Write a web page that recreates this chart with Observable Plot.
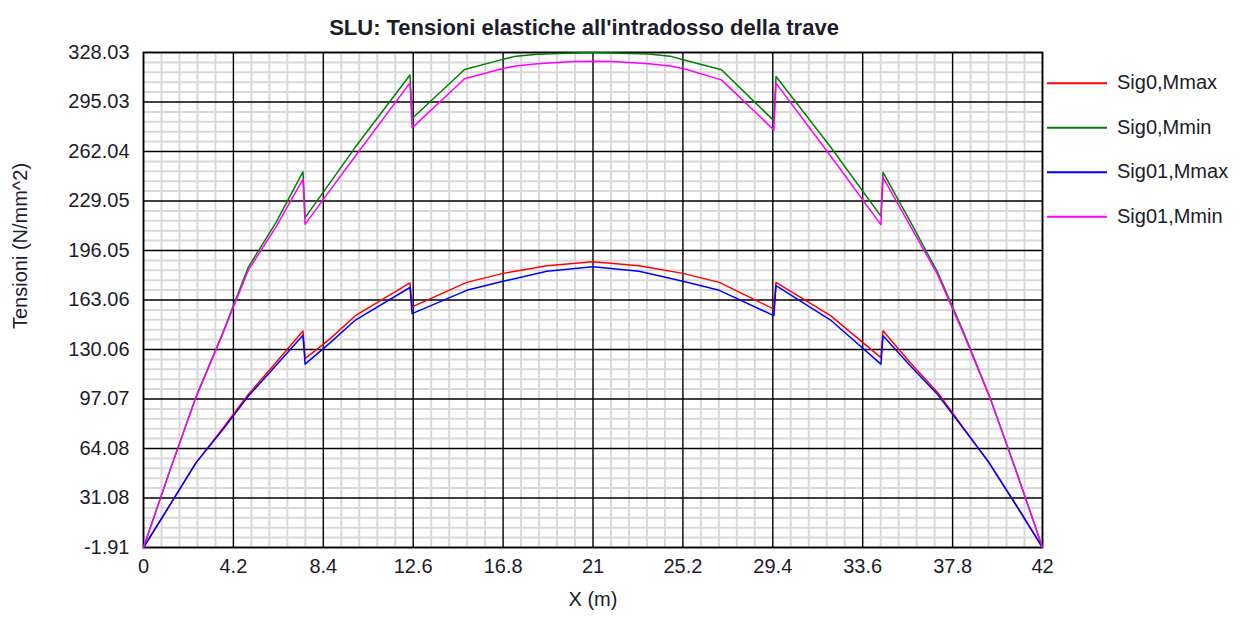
<!DOCTYPE html>
<html><head><meta charset="utf-8">
<script src="https://cdn.jsdelivr.net/npm/d3@7"></script>
<script src="https://cdn.jsdelivr.net/npm/@observablehq/plot@0.6"></script>
<style>
html,body{margin:0;padding:0;background:#fff;}
#chart{position:relative;width:1242px;height:617px;}
</style></head><body><div id="chart"></div>
<script>
const titleText = "SLU: Tensioni elastiche all'intradosso della trave";
const xLabel = "X (m)";
const yLabel = "Tensioni (N/mm^2)";

const xTicks = [0, 4.2, 8.4, 12.6, 16.8, 21, 25.2, 29.4, 33.6, 37.8, 42];
const xTickLabels = ["0", "4.2", "8.4", "12.6", "16.8", "21", "25.2", "29.4", "33.6", "37.8", "42"];
const yTicks = [-1.91, 31.08, 64.08, 97.07, 130.06, 163.06, 196.05, 229.05, 262.04, 295.03, 328.03];
const yTickLabels = ["-1.91", "31.08", "64.08", "97.07", "130.06", "163.06", "196.05", "229.05", "262.04", "295.03", "328.03"];

const seriesNames = ["Sig0,Mmax", "Sig0,Mmin", "Sig01,Mmax", "Sig01,Mmin"];
const seriesColors = ["#ff0000", "#008000", "#0000ff", "#ff00ff"];

// Mmax series (lower pair)
const xMmax = [0, 1.2, 2.45, 3.7, 4.9, 6.2, 7.45, 7.55, 8.7, 9.9, 12.45, 12.55, 15.1, 16.8, 18.85, 21, 23.15, 25.2, 26.9, 29.45, 29.55, 32.1, 34.45, 34.55, 35.8, 37.1, 38.3, 39.5, 40.8, 42];
const sig0Mmax = [-1.91, 25.6, 54.5, 77.5, 100.2, 121.5, 142.4, 124, 137, 152.6, 174.5, 158.5, 174.8, 180.8, 185.9, 188.6, 185.9, 180.8, 174.8, 157, 174.8, 152.6, 124.7, 142.5, 121.5, 101.4, 78, 54.7, 25.6, -1.91];
const sig01Mmax = [-1.91, 25.6, 54.5, 76.5, 99, 119.5, 139.5, 120.3, 134.3, 149.7, 171.4, 154, 169.5, 175.5, 182.2, 185.3, 182.2, 175.5, 169.5, 152.6, 172.6, 149.7, 120.3, 139.2, 119.5, 100, 77.5, 54.7, 25.6, -1.91];

// Mmin series (upper pair)
const xMmin = [0, 1.2, 2.45, 3.7, 4.9, 6.2, 7.45, 7.55, 8.7, 9.9, 12.45, 12.55, 15.0, 16.7, 17.4, 18.4, 20.1, 21, 21.9, 23.6, 24.6, 25.3, 27.0, 29.45, 29.55, 32.1, 34.45, 34.55, 35.8, 37.1, 38.3, 39.55, 40.8, 42];
const sig0Mmin = [-1.91, 48, 98.5, 141, 185, 215, 248.5, 218, 241, 265, 313, 284, 316.7, 323.1, 325.6, 326.8, 327.7, 328.03, 327.7, 327, 325.6, 322.9, 316.5, 282.6, 312, 265, 219, 248.2, 216, 181.5, 142, 98, 48, -1.91];
const sig01Mmin = [-1.91, 48, 98, 140.5, 183, 212, 243.7, 213.5, 236, 259, 307.8, 277.8, 310.5, 317, 319, 320.5, 322, 322.2, 322, 320.5, 319, 317, 309.8, 276.4, 307.6, 259, 213.3, 244.8, 213, 180, 141, 97.5, 47.5, -1.91];

const seriesX = [xMmax, xMmin, xMmax, xMmin];
const seriesY = [sig0Mmax, sig0Mmin, sig01Mmax, sig01Mmin];

const rows = [];
seriesNames.forEach((name, s) => {
  seriesX[s].forEach((x, i) => rows.push({series: name, x, y: seriesY[s][i]}));
});

function minors(ticks, n) {
  const out = [];
  for (let i = 0; i < ticks.length - 1; i++) {
    const step = (ticks[i + 1] - ticks[i]) / n;
    for (let k = 1; k < n; k++) out.push(ticks[i] + k * step);
  }
  return out;
}
const xMinor = minors(xTicks, 5);
const yMinor = minors(yTicks, 5);
const xLab = new Map(xTicks.map((t, i) => [t, xTickLabels[i]]));
const yLab = new Map(yTicks.map((t, i) => [t, yTickLabels[i]]));

const textColor = "#1c1c2a";
const font = "Liberation Sans, Arial, sans-serif";

const chart = Plot.plot({
  width: 1242,
  height: 617,
  marginLeft: 143,
  marginRight: 200,
  marginTop: 52,
  marginBottom: 70,
  style: {fontFamily: font, fontSize: "20px", background: "#fff", color: textColor},
  x: {domain: [0, 42]},
  y: {domain: [-1.91, 328.03]},
  color: {domain: seriesNames, range: seriesColors},
  marks: [
    Plot.ruleX(xMinor, {stroke: "#d9d9d9", strokeWidth: 2}),
    Plot.ruleY(yMinor, {stroke: "#d9d9d9", strokeWidth: 2}),
    Plot.ruleX(xTicks, {stroke: "#000", strokeWidth: 1.4}),
    Plot.ruleY(yTicks, {stroke: "#000", strokeWidth: 1.4}),
    Plot.frame({stroke: "#000", strokeWidth: 1.6}),
    Plot.line(rows, {x: "x", y: "y", z: "series", stroke: "series", strokeWidth: 1.5, curve: "linear"}),
    Plot.axisX(xTicks, {tickSize: 0, tickPadding: 11, tickFormat: d => xLab.get(d), fontSize: 20, label: null, fill: textColor}),
    Plot.axisY(yTicks, {tickSize: 0, tickPadding: 14, tickFormat: d => yLab.get(d), fontSize: 20, label: null, fill: textColor}),
    Plot.text([xLabel], {frameAnchor: "bottom", dy: 58, fontSize: 20, fill: textColor}),
    Plot.text([titleText], {frameAnchor: "top", dy: -33, dx: -9, fontSize: 22, fontWeight: "bold", fill: textColor})
  ]
});

const svg = d3.select(chart);
svg.append("text")
  .attr("transform", "translate(20,246) rotate(-90)")
  .attr("text-anchor", "middle").attr("dy", "0.35em")
  .attr("font-family", font).attr("font-size", 20)
  .attr("fill", textColor).text(yLabel);

const leg = svg.append("g").attr("font-family", font).attr("font-size", 20).attr("text-anchor", "start");
seriesNames.forEach((name, i) => {
  const cy = 83.3 + 44.5 * i;
  leg.append("line").attr("x1", 1047).attr("x2", 1107).attr("y1", cy).attr("y2", cy)
    .attr("stroke", seriesColors[i]).attr("stroke-width", 2);
  leg.append("text").attr("x", 1117).attr("y", cy - 1).attr("dy", "0.35em")
    .attr("text-anchor", "start").attr("fill", textColor).text(name);
});

document.getElementById("chart").appendChild(chart);
</script>
</body></html>
